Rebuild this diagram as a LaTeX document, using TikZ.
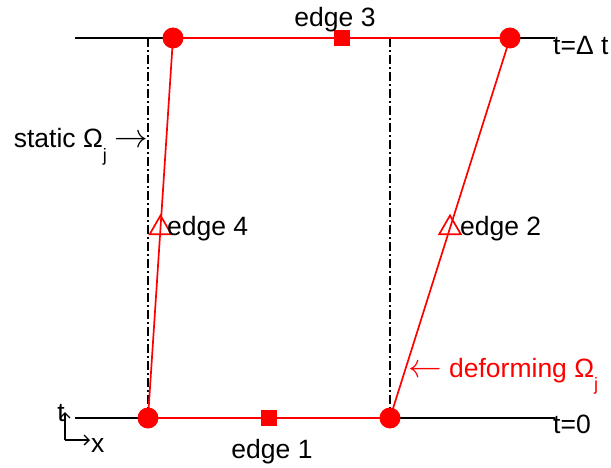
\documentclass[tikz,border=0pt]{standalone}
\usepackage{fontspec}
\setmainfont{Liberation Sans}
\usepackage{tikz}
\usetikzlibrary{arrows.meta,shapes.geometric}
\newcommand{\lowsub}[1]{\raisebox{-0.5em}{\fontsize{18}{18}\selectfont #1}}
\newcommand{\bigarr}[1]{\scalebox{1.35}{$#1$}}

\begin{document}
\begin{tikzpicture}[x=1pt, y=-1pt,
        line/.style={line width=1.7pt},
        redline/.style={line width=1.7pt, red},
        static/.style={line width=1.7pt, dash pattern=on 9pt off 3pt on 2pt off 3pt},
        dot/.style={circle, fill=red, minimum size=21pt, inner sep=0pt},
        sq/.style={rectangle, fill=red, minimum size=16pt, inner sep=0pt},
        tri/.style={regular polygon, regular polygon sides=3, draw=red, line width=1.7pt,
                    minimum size=25pt, inner sep=0pt},
        lbl/.style={font=\fontsize{26.5}{31}\selectfont, inner sep=0pt},
        axis/.style={line width=1.3pt, -{Straight Barb[length=5pt, width=10pt]}}
    ]
    \useasboundingbox (0,0) rectangle (611,468);

    % time levels
    \coordinate (l0) at (75,418);
    \coordinate (r0) at (555,418);
    \coordinate (l1) at (75,38);
    \coordinate (r1) at (555,38);
    \draw[line] (l0) -- (r0);
    \draw[line] (l1) -- (r1);
    \node[lbl, anchor=base west] (t0) at (553,433) {t=0};
    \node[lbl, anchor=base west] (t1) at (553,55) {t=Δ t};

    % static element
    \coordinate (sbl) at (148,418);
    \coordinate (sbr) at (390,418);
    \coordinate (stl) at (148,38);
    \coordinate (str) at (390,38);
    \draw[static] (stl) -- (sbl);
    \draw[static] (str) -- (sbr);

    % deforming element
    \coordinate (bl) at (148,418);
    \coordinate (br) at (390,418);
    \coordinate (tl) at (173,38);
    \coordinate (tr) at (510,38);
    \draw[redline] (bl) -- (br) node[sq, pos=0.5] (e1) {};
    \draw[redline] (br) -- (tr) node[tri, pos=0.5] (e2) {};
    \draw[redline] (tl) -- (tr) node[sq, pos=0.5] (e3) {};
    \draw[redline] (bl) -- (tl) node[tri, pos=0.5] (e4) {};
    \foreach \c in {bl,br,tl,tr}
        \node[dot] at (\c) {};

    % labels
    \node[lbl, anchor=base] (l1) at (272,458) {edge 1};
    \node[lbl, anchor=base west] (l2) at (460,236) {edge 2};
    \node[lbl, anchor=base] (l3) at (335,27) {edge 3};
    \node[lbl, anchor=base west] (l4) at (167,236) {edge 4};
    \node[lbl, anchor=base east] (stat) at (148,148) {static Ω\lowsub{j} \bigarr{\rightarrow}};
    \node[lbl, anchor=base west, text=red] (def) at (408,377) {\bigarr{\leftarrow} deforming Ω\lowsub{j}};

    % axes
    \coordinate (o) at (65,440);
    \coordinate (ot) at (65,412);
    \coordinate (ox) at (90,440);
    \draw[axis] (o) -- (ot);
    \draw[axis] (o) -- (ox);
    \node[lbl, anchor=base] (tt) at (61,421) {t};
    \node[lbl, anchor=base west] (xx) at (91,452) {x};
\end{tikzpicture}
\end{document}
